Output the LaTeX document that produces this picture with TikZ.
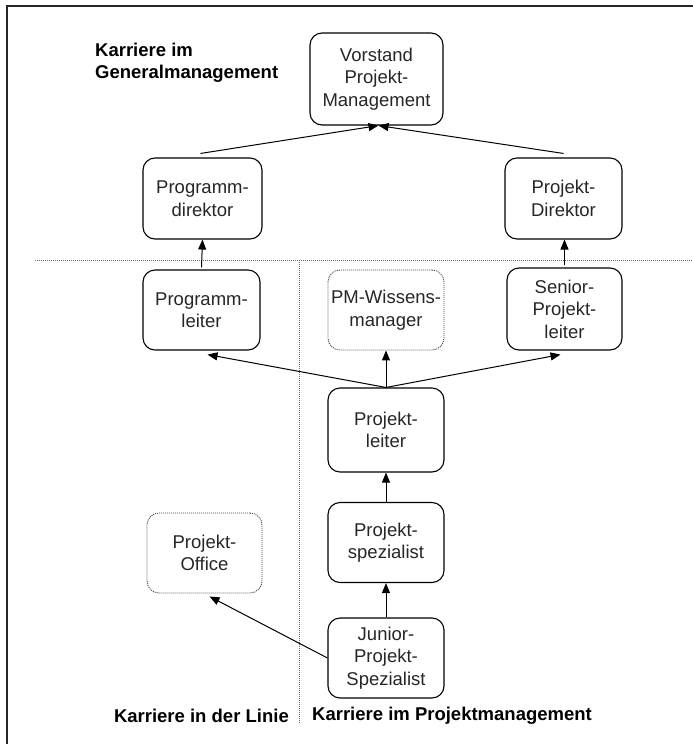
\documentclass[tikz,border=0pt]{standalone}
\usepackage{fontspec}
\setmainfont{Liberation Sans}
\usetikzlibrary{arrows.meta}
\begin{document}
\begin{tikzpicture}[x=1pt,y=-1pt,
  box/.style={draw, rounded corners=12pt, line width=1.1pt, minimum width=116pt,
    minimum height=81pt, align=center, inner sep=0pt, text=black!85,
    font=\fontsize{18.5}{22.5}\selectfont},
  dbox/.style={box, draw=black!75, dash pattern=on 1pt off 1pt, line width=0.9pt},
  arr/.style={-{Triangle[length=10pt,width=8pt]}, line width=1pt},
  lbl/.style={font=\bfseries\fontsize{18.5}{22}\selectfont, inner sep=0pt, align=left},
  sep/.style={draw=black!60, dash pattern=on 1pt off 1pt, line width=0.8pt},
  frame/.style={draw=black!85, line width=1.6pt}]
\useasboundingbox (0,0) rectangle (693,744);
% frame (top and left only)
\coordinate (ftl) at (7,6);
\coordinate (ftr) at (693,6);
\coordinate (fbl) at (7,744);
\draw[frame] (ftr) -- (ftl) -- (fbl);
% separators
\coordinate (hl) at (35,260);
\coordinate (hr) at (693,260);
\coordinate (vt) at (299,260);
\coordinate (vb) at (299,724);
\draw[sep] (hl) -- (hr);
\draw[sep] (vt) -- (vb);
% nodes
\node[box, minimum width=133pt, minimum height=92pt] (vs) at (376.5,79) {Vorstand\\Projekt-\\Management};
\node[box, minimum width=119pt] (pd) at (202.5,198.5) {Programm-\\direktor};
\node[box, minimum width=117pt] (pdir) at (563.5,198.5) {Projekt-\\Direktor};
\node[box, minimum width=117pt, minimum height=80pt] (pl) at (201.5,310) {Programm-\\leiter};
\node[dbox, minimum width=116pt, minimum height=80pt] (pm) at (386,310) {PM-Wissens-\\manager};
\node[box, minimum width=115pt, minimum height=82pt] (sr) at (564.5,309) {Senior-\\Projekt-\\leiter};
\node[box, minimum height=84pt] (plt) at (386,430) {Projekt-\\leiter};
\node[box, minimum height=80pt] (ps) at (386,542.5) {Projekt-\\spezialist};
\node[box, minimum height=80pt] (jr) at (386,658) {Junior-\\Projekt-\\Spezialist};
\node[dbox, minimum width=115pt, minimum height=80pt] (po) at (204.5,553) {Projekt-\\Office};
% labels
\node[lbl, anchor=west] (lg) at (95,63) {Karriere im\\Generalmanagement};
\node[lbl, anchor=east] (ll) at (289,716) {Karriere in der Linie};
\node[lbl, anchor=west] (lp) at (312,716) {Karriere im Projektmanagement};
% arrows
\draw[arr] ([xshift=-2pt,yshift=4pt]pd.north) -- ([xshift=2pt]vs.south);
\draw[arr] ([yshift=4pt]pdir.north) -- ([xshift=2pt]vs.south);
\draw[arr] ([yshift=2pt]pl.north) -- (pd.south);
\draw[arr] ([yshift=2pt]sr.north) -- ([xshift=1pt]pdir.south);
\draw[arr] (plt.north) -- (pm.south);
\draw[arr] (plt.north) -- ([xshift=6pt,yshift=-4pt]pl.south);
\draw[arr] (plt.north) -- ([xshift=-4pt,yshift=-4pt]sr.south);
\draw[arr] (ps.north) -- (plt.south);
\draw[arr] (jr.north) -- (ps.south);
\draw[arr] (jr.west) -- ([xshift=5pt,yshift=-3pt]po.south);
\end{tikzpicture}
\end{document}
